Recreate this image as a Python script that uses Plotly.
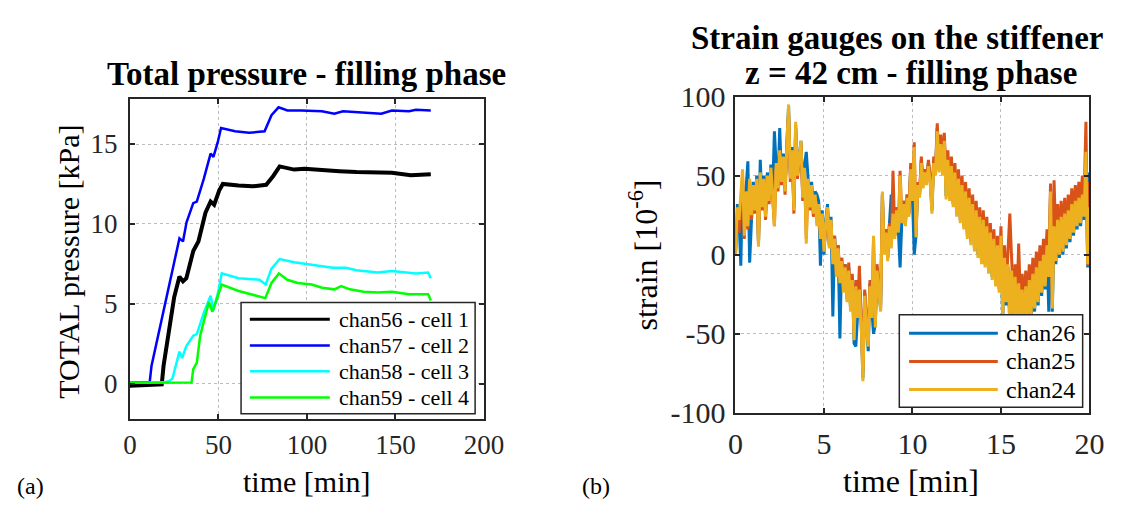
import plotly.graph_objects as go

# ---------------- Panel (a): total pressure ----------------
names_a = ["chan56 - cell 1", "chan57 - cell 2", "chan58 - cell 3", "chan59 - cell 4"]
colors_a = ["#000000", "#0000FF", "#00FFFF", "#00FF00"]

t56 = [0, 5, 10, 15, 18, 19, 22, 25, 28, 30, 31.9, 35.8, 38.7, 42.7, 45.6, 47.6, 50.5, 52.5,
       61.4, 69.2, 77, 81, 84.6, 92.8, 98.7, 108.6, 118.4, 128, 140, 148, 158.7, 170]
p56 = [-0.14, -0.12, -0.1, -0.07, -0.05, 1.1, 3.4, 5.4, 6.7, 6.4, 6.6, 8.3, 8.9, 10.7, 11.4, 11.2, 12.1, 12.5,
       12.4, 12.35, 12.45, 13.0, 13.6, 13.4, 13.45, 13.35, 13.3, 13.25, 13.2, 13.2, 13.05, 13.1]

t57 = [0, 5, 11.2, 12.2, 16, 20, 24, 28, 30, 32, 35.8, 37.8, 41.7, 45.6, 47.2, 49.6, 51.5, 59.4, 67.3,
       76.1, 80, 84, 89, 96.8, 108.5, 115.5, 120.4, 128, 142, 148, 157.7, 161.7, 170]
p57 = [0.06, 0.06, 0.1, 1.1, 3.0, 5.0, 7.0, 9.1, 8.9, 10.1, 11.3, 11.4, 12.8, 14.4, 14.2, 15.1, 16.0, 15.8, 15.7,
       15.8, 16.8, 17.3, 17.1, 17.1, 17.05, 16.9, 17.05, 17.0, 16.9, 17.1, 17.05, 17.15, 17.1]

t58 = [0, 10, 20, 22, 24, 26, 28, 29.5, 31.9, 35.8, 37.8, 41.7, 45.6, 47.2, 49.6, 51.9, 61.4, 73.2, 76.7,
       80, 84.6, 92.8, 102.7, 114.5, 122, 128, 140, 148, 161.7, 168.5, 170]
p58 = [0.05, 0.05, 0.1, 0.15, 0.3, 1.1, 2.0, 1.6, 2.35, 3.0, 3.1, 4.4, 5.5, 4.6, 5.6, 6.9, 6.6, 6.5, 6.2,
       7.2, 7.8, 7.6, 7.45, 7.25, 7.25, 7.1, 6.95, 7.05, 6.9, 6.95, 6.6]

t59 = [0, 10, 20, 30, 34.8, 35.8, 37.8, 39.7, 42.7, 44.6, 46.6, 49.2, 51.9, 61.4, 69.2, 76.5, 80, 84.2,
       88.9, 94.8, 102.7, 108.6, 115.5, 119.4, 124.3, 132, 140, 148, 157.7, 168.5, 170]
p59 = [0.05, 0.04, 0.03, 0.03, 0.06, 0.9, 1.3, 3.0, 4.2, 5.1, 4.5, 5.4, 6.2, 5.8, 5.55, 5.35, 6.3, 6.9,
       6.5, 6.3, 6.2, 6.0, 5.9, 6.1, 5.9, 5.75, 5.7, 5.75, 5.6, 5.6, 5.2]

times_a = [t56, t57, t58, t59]
vals_a = [p56, p57, p58, p59]
xticks_a = [0, 50, 100, 150, 200]
yticks_a = [0, 5, 10, 15]

# ---------------- Panel (b): strain gauges ----------------
names_b = ["chan26", "chan25", "chan24"]
colors_b = ["#0072BD", "#D95319", "#EDB120"]

time_b = [0.0, 0.1, 0.2, 0.3, 0.4, 0.5, 0.6, 0.7, 0.8, 0.9,
          1.0, 1.1, 1.2, 1.3, 1.4, 1.5, 1.6, 1.7, 1.8, 1.9,
          2.0, 2.1, 2.2, 2.3, 2.4, 2.5, 2.6, 2.7, 2.8, 2.9,
          3.0, 3.1, 3.2, 3.3, 3.4, 3.5, 3.6, 3.7, 3.8, 3.9,
          4.0, 4.1, 4.2, 4.3, 4.4, 4.5, 4.6, 4.7, 4.8, 4.9,
          5.0, 5.1, 5.2, 5.3, 5.4, 5.5, 5.6, 5.7, 5.8, 5.9,
          6.0, 6.1, 6.2, 6.3, 6.4, 6.5, 6.6, 6.7, 6.8, 6.9,
          7.0, 7.1, 7.2, 7.3, 7.4, 7.5, 7.6, 7.7, 7.8, 7.9,
          8.0, 8.1, 8.2, 8.3, 8.4, 8.5, 8.6, 8.7, 8.8, 8.9,
          9.0, 9.1, 9.2, 9.3, 9.4, 9.5, 9.6, 9.7, 9.8, 9.9,
          10.0, 10.1, 10.2, 10.3, 10.4, 10.5, 10.6, 10.7, 10.8, 10.9,
          11.0, 11.1, 11.2, 11.3, 11.4, 11.5, 11.6, 11.7, 11.8, 11.9,
          12.0, 12.1, 12.2, 12.3, 12.4, 12.5, 12.6, 12.7, 12.8, 12.9,
          13.0, 13.1, 13.2, 13.3, 13.4, 13.5, 13.6, 13.7, 13.8, 13.9,
          14.0, 14.1, 14.2, 14.3, 14.4, 14.5, 14.6, 14.7, 14.8, 14.9,
          15.0, 15.1, 15.2, 15.3, 15.4, 15.5, 15.6, 15.7, 15.8, 15.9,
          16.0, 16.1, 16.2, 16.3, 16.4, 16.5, 16.6, 16.7, 16.8, 16.9,
          17.0, 17.1, 17.2, 17.3, 17.4, 17.5, 17.6, 17.7, 17.8, 17.9,
          18.0, 18.1, 18.2, 18.3, 18.4, 18.5, 18.6, 18.7, 18.8, 18.9,
          19.0, 19.1, 19.2, 19.3, 19.4, 19.5, 19.6, 19.7, 19.8, 19.9,
          20.0]

chan26 = [0, 32, 24, -7, 44, 14, 42, 59, -5, 27,
          46, 30, 50, 6, 60, 32, 50, 26, 52, 36,
          57, 40, 78, 56, 44, 80, 48, 64, 42, 70,
          94, 50, 68, 30, 82, 52, 64, 72, 38, 57,
          65, 48, 32, 46, 28, 40, 38, 34, -7, 28,
          0, 22, 32, 6, 24, -39, 12, -12, 6, -53,
          -2, -22, -6, -28, -8, -34, -14, -56, -58, -38,
          -20, -42, -78, -24, -44, -61, -18, -38, -50, -44,
          -8, -24, -34, 38, 2, 16, -2, 20, 38, 28,
          12, 30, 16, -8, 22, 34, 20, 38, 26, 56,
          36, 0, 12, 46, 38, 60, 44, 54, 46, 58,
          48, 28, 60, 52, 80, 54, 72, 52, 74, 37,
          58, 36, 54, 32, 50, 26, 46, 22, 42, 18,
          38, 12, 34, 8, 30, 4, 26, 0, 22, -4,
          20, -6, 16, -10, 12, -14, 8, -18, 4, -22,
          10, -42, -4, -32, -8, -46, -12, -40, -16, -48,
          -20, -44, -24, -48, -22, -44, -18, -40, -14, -36,
          -10, -32, -6, -26, -2, -22, 4, -36, 38, -36,
          16, -6, 20, -2, 22, 0, 24, 4, 26, 8,
          30, 12, 32, 16, 34, 18, 36, 22, 63, -8,
          52]

chan25 = [0, 26, 14, 34, 50, 10, 38, 16, 46, 22,
          42, 26, 46, 8, 50, 28, 46, 22, 48, 32,
          52, 36, 18, 56, 40, 64, 44, 60, 38, 66,
          90, 46, 64, 26, 80, 48, 60, 70, 34, 53,
          10, 46, 28, 42, 24, 36, 20, 30, 12, 24,
          4, 18, 28, 6, 20, -4, 12, -12, 6, -14,
          -2, -20, -6, -26, -5, -32, -12, -48, -16, -36,
          -7, -40, -74, -22, -42, -52, -16, -36, 10, -42,
          -6, -22, -32, 38, 2, 16, -2, 20, 6, 53,
          12, 30, 16, 53, 22, 34, 20, 38, 26, 58,
          36, 71, 14, 46, 38, 62, 44, 54, 46, 60,
          50, 30, 62, 54, 83, 58, 76, 58, 77, 44,
          66, 42, 62, 38, 58, 32, 54, 28, 50, 24,
          46, 20, 42, 16, 38, 12, 34, 8, 30, 4,
          28, 2, 24, -2, 20, -6, 16, -10, 12, -14,
          18, -30, 6, -20, 2, 26, -2, -28, -6, -34,
          7, -30, -12, -34, -10, -30, -6, -28, -2, -24,
          2, -20, 6, -14, 10, -10, 16, -4, 45, -30,
          47, 6, 32, 10, 34, 12, 36, 16, 38, 20,
          42, 24, 44, 28, 46, 32, 50, 36, 84, -7,
          46]

chan24 = [0, 30, 22, 38, 54, 12, 40, 18, 48, 25,
          44, 28, 48, 5, 52, 30, 48, 24, 50, 34,
          55, 38, 18, 58, 42, 66, 46, 62, 40, 68,
          95, 48, 66, 28, 84, 50, 62, 72, 36, 55,
          7, 48, 30, 44, 26, 38, 18, 32, 10, 26,
          2, 20, 30, 4, 22, -6, 10, -14, 4, -18,
          -4, -24, -8, -30, -10, -36, -16, -54, -20, -40,
          -22, -44, -80, -26, -46, -58, -20, -40, 12, -46,
          -10, -26, -36, 40, 0, 14, -4, 18, 4, 26,
          10, 28, 14, 50, 20, 32, 18, 36, 24, 54,
          34, 68, 11, 44, 36, 58, 42, 52, 44, 56,
          46, 26, 58, 50, 78, 52, 70, 50, 72, 35,
          60, 34, 56, 30, 52, 24, 48, 20, 44, 16,
          40, 10, 36, 6, 32, 2, 28, -2, 24, -6,
          22, -8, 18, -12, 14, -16, 10, -20, 6, -24,
          12, -40, -2, -30, -6, -44, -10, -38, -14, -46,
          -18, -42, -22, -46, -20, -42, -16, -38, -12, -34,
          -8, -30, -4, -24, 0, -20, 6, -14, 40, -34,
          18, -4, 22, 0, 24, 2, 26, 6, 28, 10,
          32, 14, 34, 18, 36, 20, 38, 24, 65, -6,
          30]

vals_b = [chan26, chan25, chan24]
xticks_b = [0, 5, 10, 15, 20]
yticks_b = [-100, -50, 0, 50, 100]
yticklabels_b = ["-100", "-50", "0", "50", "100"]

# ---------------- figure ----------------
W, H = 1128, 517
FONT = "Liberation Serif, Times New Roman, serif"
INK = "#262626"


def px(x):
    return x / W


def py(y):
    return 1 - y / H


fig = go.Figure()
for name, tt, vv, col in zip(names_a, times_a, vals_a, colors_a):
    fig.add_trace(go.Scatter(x=tt, y=vv, mode="lines", name=name,
                             line=dict(color=col, width=4 if col == "#000000" else 2.5),
                             xaxis="x", yaxis="y", showlegend=False))
for name, vv, col in zip(names_b, vals_b, colors_b):
    fig.add_trace(go.Scatter(x=time_b, y=vv, mode="lines", name=name,
                             line=dict(color=col, width=3),
                             xaxis="x2", yaxis="y2", showlegend=False))

def axis(size, **kw):
    base = dict(showline=True, linecolor=INK, linewidth=2, mirror="ticks", ticks="inside",
                ticklen=5, tickwidth=1.5, tickcolor=INK, showgrid=True, gridcolor="#bdbdbd",
                griddash="dot", gridwidth=1, zeroline=False,
                tickfont=dict(family=FONT, size=size, color=INK))
    base.update(kw)
    return base

fig.update_layout(
    width=W, height=H, margin=dict(l=0, r=0, t=0, b=0),
    font=dict(family=FONT),
    paper_bgcolor="white", plot_bgcolor="white", showlegend=False,
    xaxis=axis(27, domain=[px(125), px(488)], range=[0, 200], tickvals=xticks_a, anchor="y"),
    yaxis=axis(27, domain=[py(431), py(89)], range=[-2.25, 17.8], tickvals=yticks_a, anchor="x",
               ticklabelstandoff=5),
    xaxis2=axis(30, domain=[px(746), px(1109)], range=[0, 20], tickvals=xticks_b, anchor="y2",
                ticklabelstandoff=3),
    yaxis2=axis(30, domain=[py(424), py(86)], range=[-100, 100], tickvals=yticks_b,
                ticktext=yticklabels_b, anchor="x2", ticklabelstandoff=2),
)

ann = []
def text(x, y, s, size, bold=False, angle=0, xanchor="center"):
    ann.append(dict(x=px(x), y=py(y), xref="paper", yref="paper", text=("<b>%s</b>" % s) if bold else s,
                    showarrow=False, textangle=angle, xanchor=xanchor, yanchor="middle",
                    font=dict(family=FONT, size=size, color="#000000")))

text(306, 62, "Total pressure - filling phase", 33, bold=True)
text(912, 23, "Strain gauges on the stiffener", 33, bold=True)
text(926, 61, "z = 42 cm - filling phase", 33, bold=True)
text(306, 497, "time [min]", 30)
text(926, 497, "time [min]", 32)
text(62, 262, "TOTAL pressure [kPa]", 30, angle=-90)
text(651, 255, "strain [10<sup>-6</sup>]", 32, angle=-90)
text(23, 502, "(a)", 24)
text(603, 502, "(b)", 24)

shapes = []
# legend (a)
shapes.append(dict(type="rect", xref="paper", yref="paper", x0=px(239), x1=px(479), y0=py(425), y1=py(306),
                   line=dict(color=INK, width=1.5), fillcolor="white", layer="above"))
rows_a = [324, 352, 379.5, 407.5]
for name, col, ry in zip(names_a, colors_a, rows_a):
    shapes.append(dict(type="line", xref="paper", yref="paper", x0=px(248), x1=px(330), y0=py(ry), y1=py(ry),
                       line=dict(color=col, width=3 if col == "#000000" else 2.5), layer="above"))
    ann.append(dict(x=px(337), y=py(ry), xref="paper", yref="paper", text=name, showarrow=False,
                    xanchor="left", yanchor="middle", font=dict(family=FONT, size=22, color="#000000")))
# legend (b)
shapes.append(dict(type="rect", xref="paper", yref="paper", x0=px(914), x1=px(1102), y0=py(418), y1=py(319),
                   line=dict(color=INK, width=1.5), fillcolor="white", layer="above"))
rows_b = [339, 369, 399]
for name, col, ry in zip(names_b, colors_b, rows_b):
    shapes.append(dict(type="line", xref="paper", yref="paper", x0=px(924), x1=px(1015), y0=py(ry), y1=py(ry),
                       line=dict(color=col, width=3), layer="above"))
    ann.append(dict(x=px(1021), y=py(ry), xref="paper", yref="paper", text=name, showarrow=False,
                    xanchor="left", yanchor="middle", font=dict(family=FONT, size=24, color="#000000")))

fig.update_layout(annotations=ann, shapes=shapes)
fig.write_html("out.html")
